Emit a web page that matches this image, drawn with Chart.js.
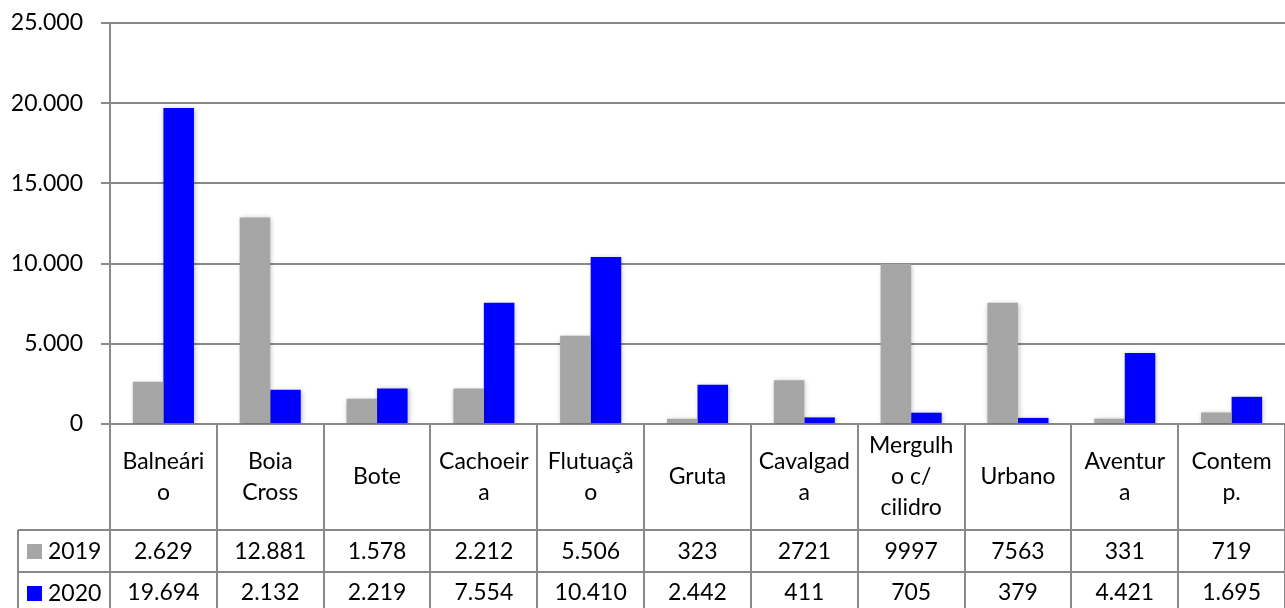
<!DOCTYPE html>
<html>
<head>
<meta charset="utf-8">
<script src="https://cdn.jsdelivr.net/npm/chart.js@4/dist/chart.umd.min.js"></script>
<style>
  html, body { margin: 0; padding: 0; background: #fff; }
  #wrap { width: 1285px; height: 608px; position: relative; }
</style>
</head>
<body>
<div id="wrap"><canvas id="turismoChart"></canvas></div>
<script>
    /* ===== Data ===== */
    var categories = [
        ['Balneári', 'o'], ['Boia', 'Cross'], ['Bote'], ['Cachoeir', 'a'], ['Flutuaçã', 'o'],
        ['Gruta'], ['Cavalgad', 'a'], ['Mergulh', 'o c/', 'cilidro'], ['Urbano'], ['Aventur', 'a'], ['Contem', 'p.']
    ];
    var values2019 = [2629, 12881, 1578, 2212, 5506, 323, 2721, 9997, 7563, 331, 719];
    var values2020 = [19694, 2132, 2219, 7554, 10410, 2442, 411, 705, 379, 4421, 1695];
    // table texts as printed in the source (formatting is not uniform)
    var labels2019 = ['2.629', '12.881', '1.578', '2.212', '5.506', '323', '2721', '9997', '7563', '331', '719'];
    var labels2020 = ['19.694', '2.132', '2.219', '7.554', '10.410', '2.442', '411', '705', '379', '4.421', '1.695'];
    var seriesNames = ['2019', '2020'];
    var yTicks = [0, 5000, 10000, 15000, 20000, 25000];

    /* ===== Design Tokens ===== */
    var COLORS = {
        gray: '#a6a6a6',
        blue: '#0000ff',
        line: '#898989',
        text: '#000000'
    };
    var FONT = { family: "Lato, 'Open Sans', sans-serif", size: 23 };

    function fmt(v) {
        return String(v).replace(/\B(?=(\d{3})+(?!\d))/g, '.');
    }

    /* bar shadow */
    var shadowPlugin = {
        id: 'barShadow',
        beforeDatasetsDraw: function (chart) {
            var ctx = chart.ctx;
            ctx.save();
            ctx.shadowColor = 'rgba(0,0,0,0.28)';
            ctx.shadowBlur = 5;
            ctx.shadowOffsetX = 1;
            ctx.shadowOffsetY = 1;
        },
        afterDatasetsDraw: function (chart) {
            chart.ctx.restore();
        }
    };

    /* data table under the plot */
    var tablePlugin = {
        id: 'dataTable',
        afterDraw: function (chart) {
            var ctx = chart.ctx;
            var area = chart.chartArea;
            var xs = chart.scales.x;
            var n = categories.length;
            var colW = (area.right - area.left) / n;
            var top = area.bottom;
            var row1 = top + 106;
            var row2 = row1 + 42;
            var bottom = chart.height + 5;
            var legendLeft = 18;

            ctx.save();
            ctx.strokeStyle = COLORS.line;
            ctx.lineWidth = 2;
            ctx.beginPath();
            // column lines
            for (var i = 0; i <= n; i++) {
                var x = Math.round(area.left + i * colW);
                ctx.moveTo(x, top);
                ctx.lineTo(x, bottom);
            }
            // row lines
            ctx.moveTo(legendLeft, row1); ctx.lineTo(area.right, row1);
            ctx.moveTo(legendLeft, row2); ctx.lineTo(area.right, row2);
            ctx.moveTo(legendLeft, row1); ctx.lineTo(legendLeft, bottom);
            ctx.stroke();

            ctx.fillStyle = COLORS.text;
            ctx.font = FONT.size + 'px ' + FONT.family;
            ctx.textAlign = 'center';
            ctx.textBaseline = 'middle';
            var lh = 31;
            var midCat = (top + row1) / 2;
            for (var j = 0; j < n; j++) {
                var cx = xs.getPixelForValue(j);
                var lines = categories[j];
                var y0 = midCat - (lines.length - 1) * lh / 2;
                for (var k = 0; k < lines.length; k++) {
                    ctx.fillText(lines[k], cx, y0 + k * lh);
                }
                ctx.fillText(labels2019[j], cx, (row1 + row2) / 2 + 1);
                ctx.fillText(labels2020[j], cx, row2 + 21);
            }

            // legend keys
            var keyColors = [COLORS.gray, COLORS.blue];
            var rowMids = [(row1 + row2) / 2, row2 + 21];
            ctx.textAlign = 'left';
            for (var s = 0; s < 2; s++) {
                ctx.fillStyle = keyColors[s];
                ctx.fillRect(27, rowMids[s] - 7, 15, 15);
                ctx.fillStyle = COLORS.text;
                ctx.fillText(seriesNames[s], 48, rowMids[s] + 1);
            }
            ctx.restore();
        }
    };

    new Chart(document.getElementById('turismoChart'), {
        type: 'bar',
        data: {
            labels: categories.map(function (c) { return c.join(''); }),
            datasets: [
                { label: seriesNames[0], data: values2019, backgroundColor: COLORS.gray, categoryPercentage: 0.572, barPercentage: 1 },
                { label: seriesNames[1], data: values2020, backgroundColor: COLORS.blue, categoryPercentage: 0.572, barPercentage: 1 }
            ]
        },
        options: {
            responsive: true,
            maintainAspectRatio: false,
            animation: false,
            devicePixelRatio: 1,
            layout: { padding: { top: 23, bottom: 608 - 424, left: 0, right: 0 } },
            plugins: { legend: { display: false }, tooltip: { enabled: false } },
            scales: {
                x: { display: false },
                y: {
                    min: 0,
                    max: 25000,
                    afterBuildTicks: function (scale) {
                        scale.ticks = yTicks.map(function (v) { return { value: v }; });
                    },
                    afterFit: function (scale) {
                        scale.width = 110;
                        scale.paddingTop = 0;
                        scale.paddingBottom = 0;
                    },
                    border: { color: COLORS.line, width: 2 },
                    grid: { color: COLORS.line, lineWidth: 2, tickLength: 9 },
                    ticks: {
                        color: COLORS.text,
                        padding: 18,
                        font: FONT,
                        callback: function (v) { return fmt(v); }
                    }
                }
            }
        },
        plugins: [shadowPlugin, tablePlugin]
    });
</script>
</body>
</html>
